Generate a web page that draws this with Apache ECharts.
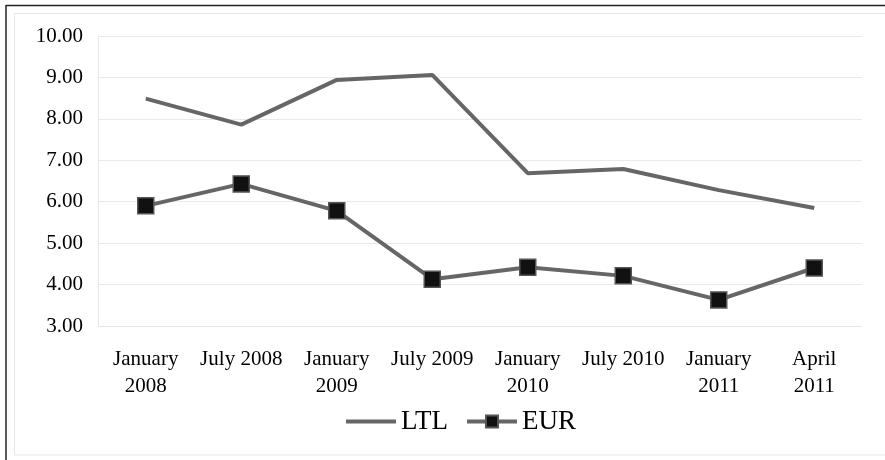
<!DOCTYPE html>
<html>
<head>
<meta charset="utf-8">
<script src="https://cdn.jsdelivr.net/npm/echarts@6/dist/echarts.min.js"></script>
<style>
html,body{margin:0;padding:0;background:#fff;}
#c{width:885px;height:460px;}
</style>
</head>
<body>
<div id="c"></div>
<script>
const categories = ['January\n2008','July 2008','January\n2009','July 2009','January\n2010','July 2010','January\n2011','April\n2011'];
const ltl = [8.49, 7.86, 8.94, 9.06, 6.69, 6.79, 6.28, 5.85];
const eur = [5.90, 6.43, 5.78, 4.13, 4.42, 4.21, 3.63, 4.40];

const chart = echarts.init(document.getElementById('c'), null, {renderer:'canvas'});
const font = '"Liberation Serif", "Times New Roman", serif';
chart.setOption({
  animation: false,
  textStyle: {fontFamily: font},
  graphic: [
    {type:'rect', shape:{x:14.5, y:13.5, width:880, height:441.5}, style:{fill:'none', stroke:'#e6e6e6', lineWidth:1}, silent:true},
    {type:'line', shape:{x1:6, y1:5.5, x2:885, y2:5.5}, style:{stroke:'#222', lineWidth:1.5}, silent:true},
    {type:'line', shape:{x1:6, y1:5, x2:6, y2:460}, style:{stroke:'#222', lineWidth:1.5}, silent:true}
  ],
  grid: {left: 98, right: 23, top: 36, bottom: 134, containLabel: false},
  legend: {
    bottom: 20,
    left: 339,
    itemWidth: 50,
    itemHeight: 15,
    itemGap: 17,
    lineStyle: {width: 4},
    textStyle: {fontFamily: font, fontSize: 27, color: '#000'},
    data: [
      {name: 'LTL', itemStyle: {opacity: 0}},
      {name: 'EUR'}
    ]
  },
  xAxis: {
    type: 'category',
    data: categories,
    boundaryGap: true,
    axisLine: {lineStyle: {color: '#e6e6e6'}},
    axisTick: {show: false},
    axisLabel: {fontFamily: font, fontSize: 21, color: '#000', lineHeight: 27, margin: 20, interval: 0}
  },
  yAxis: {
    type: 'value',
    min: 3, max: 10, interval: 1,
    axisLine: {show: true, lineStyle: {color: '#e6e6e6'}},
    axisTick: {show: false},
    splitLine: {lineStyle: {color: '#e9e9e9'}},
    axisLabel: {fontFamily: font, fontSize: 21, color: '#000', margin: 15, formatter: v => v.toFixed(2)}
  },
  series: [
    {
      name: 'LTL', type: 'line', data: ltl,
      showSymbol: false, symbol: 'none',
      lineStyle: {color: '#666666', width: 4},
      itemStyle: {color: '#666666'}
    },
    {
      name: 'EUR', type: 'line', data: eur,
      symbol: 'rect', symbolSize: 16,
      lineStyle: {color: '#666666', width: 4},
      itemStyle: {color: '#111111', borderColor: '#555555', borderWidth: 1.5}
    }
  ]
});
</script>
</body>
</html>
